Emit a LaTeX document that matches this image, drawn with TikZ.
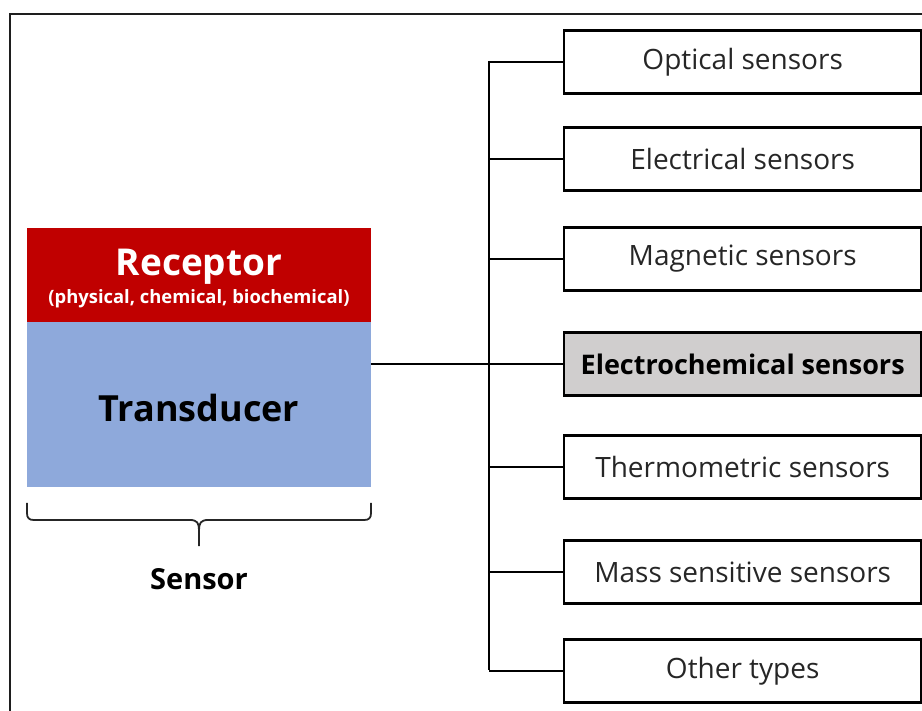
\documentclass[tikz,border=0pt]{standalone}
\usepackage{fontspec}
\setmainfont{Open Sans}
\definecolor{recred}{RGB}{192,0,0}
\definecolor{transblue}{RGB}{142,169,219}
\definecolor{hlgray}{RGB}{208,206,206}
\definecolor{framegray}{RGB}{30,30,30}
\begin{document}
\begin{tikzpicture}[x=1pt,y=-1pt,
  typebox/.style={draw=black,line width=2.4pt,minimum width=357pt,minimum height=63pt,
    inner sep=0pt,font=\fontsize{28}{32}\selectfont,text=black!85},
  link/.style={line width=2pt,draw=black}]
\useasboundingbox (0,0) rectangle (922,711);
% outer frame (only top and left edges are visible)
\draw[framegray,line width=2.4pt] (10,720) -- (10,14) -- (930,14);

% sensor block
\node[fill=recred,minimum width=344pt,minimum height=94pt,inner sep=0pt,anchor=north west]
  (rec) at (27,228) {};
\node[text=white,font=\bfseries\fontsize{37}{42}\selectfont] (rectitle) at (199,267) {Receptor};
\node[text=white,font=\bfseries\fontsize{18.4}{22}\selectfont] (recsub) at (199,299) {(physical, chemical, biochemical)};
\node[fill=transblue,minimum width=344pt,minimum height=165pt,inner sep=0pt,anchor=north west]
  (trans) at (27,322) {};
\node[text=black,font=\bfseries\fontsize{36}{42}\selectfont] (transtitle) at (199,408) {Transducer};

% brace under the block
\draw[line width=1.8pt,black!85]
  (27,503) -- (27,513) .. controls (27,518) and (29,520) .. (34,520) -- (190,520)
  .. controls (197,520) and (199,523) .. (199,530) -- (199,546);
\draw[line width=1.8pt,black!85]
  (371,503) -- (371,513) .. controls (371,518) and (369,520) .. (364,520) -- (208,520)
  .. controls (201,520) and (199,523) .. (199,530);
\node[font=\bfseries\fontsize{29}{34}\selectfont] (sensor) at (199,579) {Sensor};

% sensor types
\node[typebox,anchor=west] (opt) at (563,62) {Optical sensors};
\node[typebox,anchor=west] (ele) at (563,159) {Electrical sensors};
\node[typebox,anchor=west] (mag) at (563,259) {Magnetic sensors};
\node[typebox,anchor=west,fill=hlgray,font=\bfseries\fontsize{27}{32}\selectfont,text=black] (ech) at (563,364) {Electrochemical sensors};
\node[typebox,anchor=west] (thm) at (563,467) {Thermometric sensors};
\node[typebox,anchor=west] (mas) at (563,572) {Mass sensitive sensors};
\node[typebox,anchor=west] (oth) at (563,671) {Other types};

% connectors
\coordinate (trunktop) at (489,61);
\coordinate (trunkbot) at (489,670);
\draw[link] (trunktop) -- (trunkbot);
\foreach \n in {opt,ele,mag,ech,thm,mas,oth}
  \draw[link] (\n.west) -- (\n.west -| trunktop);
\draw[link] (trans.east |- ech.west) -- (ech.west -| trunktop);
\end{tikzpicture}
\end{document}
